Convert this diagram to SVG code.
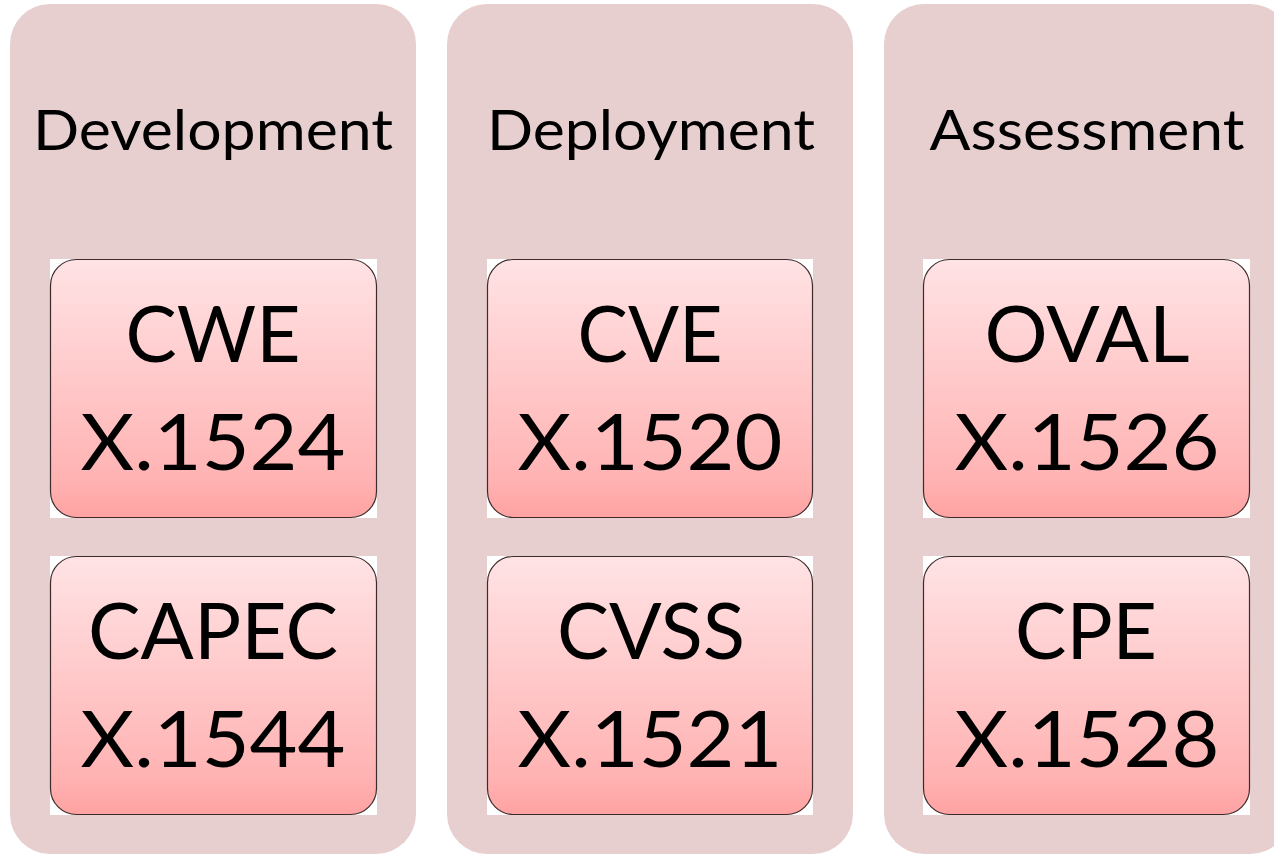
<svg xmlns="http://www.w3.org/2000/svg" width="1274" height="854" viewBox="0 0 1274 854">
<defs>
<linearGradient id="g" x1="0" y1="0" x2="0" y2="1">
<stop offset="0" stop-color="#ffe3e5"/>
<stop offset="0.85" stop-color="#ffb3b3"/>
<stop offset="1" stop-color="#ffa2a2"/>
</linearGradient>
<style>
.col{fill:#e7cfd0}
.bg{fill:#ffffff}
.box{fill:url(#g);stroke:#3d2b2b;stroke-width:1.2}
.t{font-family:Lato,"Open Sans","Liberation Sans",sans-serif;fill:#000;text-anchor:middle}
.h{font-size:56px}
.b{font-size:78px}
</style>
</defs>
<rect width="1274" height="854" fill="#ffffff"/>
<g id="col-development">
<rect class="col" x="10" y="4" width="406" height="850" rx="40"/>
<text class="t h" x="213" y="150" textLength="360" lengthAdjust="spacingAndGlyphs">Development</text>
</g>
<g id="col-deployment">
<rect class="col" x="447" y="4" width="406" height="850" rx="40"/>
<text class="t h" x="651" y="150" textLength="328" lengthAdjust="spacingAndGlyphs">Deployment</text>
</g>
<g id="col-assessment">
<rect class="col" x="884" y="4" width="406" height="850" rx="40"/>
<text class="t h" x="1087" y="150" textLength="315" lengthAdjust="spacingAndGlyphs">Assessment</text>
</g>
<g id="node-cwe">
<rect class="bg" x="50" y="259" width="327" height="259"/>
<rect class="box" x="50.5" y="259.5" width="326" height="258" rx="26"/>
<text class="t b" x="213" y="362" textLength="175" lengthAdjust="spacingAndGlyphs">CWE</text>
<text class="t b" x="213" y="470" textLength="265" lengthAdjust="spacingAndGlyphs">X.1524</text>
</g>
<g id="node-capec">
<rect class="bg" x="50" y="556" width="327" height="259"/>
<rect class="box" x="50.5" y="556.5" width="326" height="258" rx="26"/>
<text class="t b" x="213" y="659" textLength="250" lengthAdjust="spacingAndGlyphs">CAPEC</text>
<text class="t b" x="213" y="767" textLength="265" lengthAdjust="spacingAndGlyphs">X.1544</text>
</g>
<g id="node-cve">
<rect class="bg" x="487" y="259" width="326" height="259"/>
<rect class="box" x="487.5" y="259.5" width="325" height="258" rx="26"/>
<text class="t b" x="650" y="362" textLength="145" lengthAdjust="spacingAndGlyphs">CVE</text>
<text class="t b" x="650" y="470" textLength="265" lengthAdjust="spacingAndGlyphs">X.1520</text>
</g>
<g id="node-cvss">
<rect class="bg" x="487" y="556" width="326" height="259"/>
<rect class="box" x="487.5" y="556.5" width="325" height="258" rx="26"/>
<text class="t b" x="651" y="659" textLength="188" lengthAdjust="spacingAndGlyphs">CVSS</text>
<text class="t b" x="650" y="767" textLength="265" lengthAdjust="spacingAndGlyphs">X.1521</text>
</g>
<g id="node-oval">
<rect class="bg" x="923" y="259" width="327" height="259"/>
<rect class="box" x="923.5" y="259.5" width="326" height="258" rx="26"/>
<text class="t b" x="1087" y="362" textLength="205" lengthAdjust="spacingAndGlyphs">OVAL</text>
<text class="t b" x="1087" y="470" textLength="265" lengthAdjust="spacingAndGlyphs">X.1526</text>
</g>
<g id="node-cpe">
<rect class="bg" x="923" y="556" width="327" height="259"/>
<rect class="box" x="923.5" y="556.5" width="326" height="258" rx="26"/>
<text class="t b" x="1086" y="659" textLength="142" lengthAdjust="spacingAndGlyphs">CPE</text>
<text class="t b" x="1087" y="767" textLength="265" lengthAdjust="spacingAndGlyphs">X.1528</text>
</g>
<g id="connectors"/>
</svg>
